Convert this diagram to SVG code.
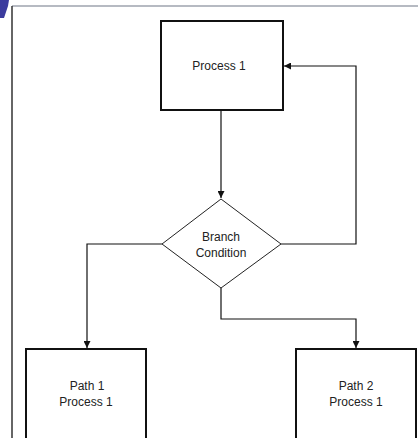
<svg xmlns="http://www.w3.org/2000/svg" width="418" height="438" viewBox="0 0 418 438">
  <style>
    .box { fill: #ffffff; stroke: #111111; stroke-width: 2; }
    .dia { fill: #ffffff; stroke: #222222; stroke-width: 1; }
    .wire { fill: none; stroke: #111111; stroke-width: 1.2; }
    .lbl { font-family: "Liberation Sans", Arial, sans-serif; font-size: 12px; fill: #222222; text-anchor: middle; }
  </style>
  <defs>
    <marker id="arrow" viewBox="0 0 10 10" refX="10" refY="5" markerWidth="9" markerHeight="7" markerUnits="userSpaceOnUse" orient="auto">
      <path d="M0,0 L10,5 L0,10 z" fill="#111111"/>
    </marker>
  </defs>

  <rect x="0" y="0" width="418" height="438" fill="#ffffff"/>

  <!-- page frame -->
  <g id="frame">
    <path d="M0,0 L9,0 L8,6 L4,18 L0,18 z" fill="#3b3b9e"/>
    <line x1="12" y1="6" x2="418" y2="6" stroke="#b6bac2" stroke-width="2"/>
    <line x1="12" y1="6" x2="12" y2="438" stroke="#333333" stroke-width="1.5"/>
  </g>

  <!-- connectors -->
  <g id="connectors">
    <path class="wire" d="M221,111 L221,198" marker-end="url(#arrow)"/>
    <path class="wire" d="M281,244 L356,244 L356,66 L284,66" marker-end="url(#arrow)"/>
    <path class="wire" d="M162,244 L87,244 L87,348" marker-end="url(#arrow)"/>
    <path class="wire" d="M221,288 L221,319 L356,319 L356,348" marker-end="url(#arrow)"/>
  </g>

  <g id="process1">
    <rect class="box" x="161" y="21" width="122" height="89"/>
    <text class="lbl" x="219" y="70">Process 1</text>
  </g>

  <g id="branch">
    <polygon class="dia" points="221,199 281,244 221,288 162,244"/>
    <text class="lbl" x="221" y="241">Branch</text>
    <text class="lbl" x="221" y="257">Condition</text>
  </g>

  <g id="path1">
    <rect class="box" x="26" y="349" width="120" height="100"/>
    <text class="lbl" x="87" y="390">Path 1</text>
    <text class="lbl" x="86" y="406">Process 1</text>
  </g>

  <g id="path2">
    <rect class="box" x="296" y="349" width="120" height="100"/>
    <text class="lbl" x="356" y="390">Path 2</text>
    <text class="lbl" x="356" y="406">Process 1</text>
  </g>
</svg>
